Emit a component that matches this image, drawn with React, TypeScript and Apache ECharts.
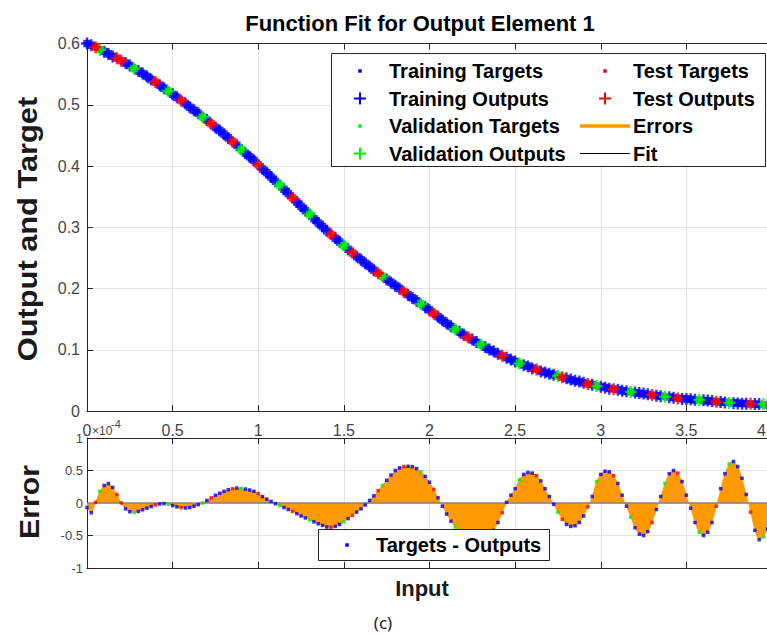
import React, { useEffect, useRef } from "react";
import * as echarts from "echarts";

// Input samples, in units of 1e-4
const INPUT = [
  0, 0.025, 0.05, 0.075, 0.1, 0.125, 0.15, 0.175, 0.2, 0.225,
  0.25, 0.275, 0.3, 0.325, 0.35, 0.375, 0.4, 0.425, 0.45, 0.475,
  0.5, 0.525, 0.55, 0.575, 0.6, 0.625, 0.65, 0.675, 0.7, 0.725,
  0.75, 0.775, 0.8, 0.825, 0.85, 0.875, 0.9, 0.925, 0.95, 0.975,
  1, 1.025, 1.05, 1.075, 1.1, 1.125, 1.15, 1.175, 1.2, 1.225,
  1.25, 1.275, 1.3, 1.325, 1.35, 1.375, 1.4, 1.425, 1.45, 1.475,
  1.5, 1.525, 1.55, 1.575, 1.6, 1.625, 1.65, 1.675, 1.7, 1.725,
  1.75, 1.775, 1.8, 1.825, 1.85, 1.875, 1.9, 1.925, 1.95, 1.975,
  2, 2.025, 2.05, 2.075, 2.1, 2.125, 2.15, 2.175, 2.2, 2.225,
  2.25, 2.275, 2.3, 2.325, 2.35, 2.375, 2.4, 2.425, 2.45, 2.475,
  2.5, 2.525, 2.55, 2.575, 2.6, 2.625, 2.65, 2.675, 2.7, 2.725,
  2.75, 2.775, 2.8, 2.825, 2.85, 2.875, 2.9, 2.925, 2.95, 2.975,
  3, 3.025, 3.05, 3.075, 3.1, 3.125, 3.15, 3.175, 3.2, 3.225,
  3.25, 3.275, 3.3, 3.325, 3.35, 3.375, 3.4, 3.425, 3.45, 3.475,
  3.5, 3.525, 3.55, 3.575, 3.6, 3.625, 3.65, 3.675, 3.7, 3.725,
  3.75, 3.775, 3.8, 3.825, 3.85, 3.875, 3.9, 3.925, 3.95, 3.975,
  4,
];

// Target values at each input
const TARGET = [
  0.600, 0.597, 0.594, 0.590, 0.587, 0.583, 0.579, 0.576, 0.572, 0.568,
  0.564, 0.559, 0.555, 0.551, 0.546, 0.541, 0.537, 0.532, 0.527, 0.522,
  0.517, 0.512, 0.507, 0.502, 0.496, 0.491, 0.486, 0.480, 0.475, 0.469,
  0.463, 0.458, 0.452, 0.446, 0.440, 0.434, 0.427, 0.421, 0.415, 0.409,
  0.402, 0.395, 0.389, 0.382, 0.375, 0.369, 0.362, 0.355, 0.348, 0.341,
  0.334, 0.327, 0.321, 0.314, 0.307, 0.301, 0.294, 0.288, 0.282, 0.276,
  0.270, 0.264, 0.258, 0.252, 0.247, 0.241, 0.236, 0.230, 0.225, 0.220,
  0.215, 0.210, 0.205, 0.200, 0.195, 0.190, 0.185, 0.180, 0.175, 0.170,
  0.165, 0.159, 0.154, 0.148, 0.143, 0.138, 0.133, 0.129, 0.124, 0.120,
  0.116, 0.112, 0.108, 0.104, 0.100, 0.097, 0.093, 0.090, 0.087, 0.084,
  0.081, 0.078, 0.075, 0.073, 0.070, 0.068, 0.065, 0.063, 0.061, 0.059,
  0.057, 0.055, 0.053, 0.051, 0.049, 0.048, 0.046, 0.044, 0.043, 0.041,
  0.040, 0.0385, 0.037, 0.036, 0.035, 0.033, 0.032, 0.031, 0.030, 0.029,
  0.028, 0.027, 0.026, 0.025, 0.024, 0.0235, 0.023, 0.022, 0.021, 0.020,
  0.0197, 0.019, 0.018, 0.0177, 0.017, 0.0165, 0.016, 0.015, 0.0148, 0.0143,
  0.0138, 0.0133, 0.0129, 0.0124, 0.012, 0.0116, 0.0112, 0.0108, 0.0104, 0.010,
  0.0097,
];

// Targets - Outputs at each input (error axis units)
const ERROR = [
  -0.07, -0.15, 0.01, 0.18, 0.27, 0.30, 0.24, 0.13, 0.00, -0.09,
  -0.135, -0.145, -0.13, -0.105, -0.08, -0.055, -0.03, -0.015, -0.01, -0.02,
  -0.04, -0.06, -0.072, -0.077, -0.07, -0.05, -0.025, 0.00, 0.04, 0.08,
  0.12, 0.15, 0.18, 0.205, 0.22, 0.23, 0.225, 0.215, 0.20, 0.18,
  0.145, 0.10, 0.06, 0.025, -0.01, -0.04, -0.07, -0.10, -0.13, -0.165,
  -0.20, -0.23, -0.26, -0.29, -0.32, -0.345, -0.37, -0.375, -0.36, -0.33,
  -0.29, -0.24, -0.19, -0.14, -0.09, -0.03, 0.04, 0.11, 0.19, 0.27,
  0.35, 0.43, 0.50, 0.54, 0.56, 0.565, 0.56, 0.53, 0.48, 0.41,
  0.32, 0.21, 0.08, -0.05, -0.17, -0.28, -0.37, -0.44, -0.50, -0.53,
  -0.55, -0.555, -0.55, -0.53, -0.49, -0.42, -0.30, -0.15, 0.01, 0.12,
  0.22, 0.36, 0.44, 0.47, 0.46, 0.42, 0.34, 0.22, 0.10, -0.02,
  -0.14, -0.25, -0.33, -0.36, -0.35, -0.30, -0.20, -0.06, 0.10, 0.33,
  0.44, 0.49, 0.48, 0.42, 0.30, 0.12, -0.05, -0.22, -0.38, -0.48,
  -0.50, -0.44, -0.30, -0.10, 0.10, 0.30, 0.45, 0.50, 0.46, 0.33,
  0.12, -0.08, -0.30, -0.45, -0.50, -0.45, -0.30, -0.05, 0.22, 0.45,
  0.60, 0.64, 0.56, 0.38, 0.13, -0.14, -0.42, -0.565, -0.52, -0.40,
  -0.22,
];

// Data division of each sample: b = training, g = validation, r = test
const SPLIT = (
  "bbrgbbbrrb bgbbbbrbbg bbrbbbbgbr bbbbrbgbbb rbbbbgbbrb bbgbbbbrbb " +
  "gbrbbbbbrg bbbbrbbbgb brbbbbgbbr bbgbbbbrbb bgbbbrbbbb grbbbbbrbg " +
  "bbbrbbbgbb bbrbbgbbrb bbbgbbbrbb gbbbbrbbgb r"
).replace(/ /g, "").split("");

// One error-axis unit in output units
const ERROR_UNIT = 1e-3;

const X_TICK_STEP = 0.5;
const Y_TICK_STEP = 0.1;
const E_TICK_STEP = 0.5;
const X_MAX_LABEL = "4";

const OUTPUT = TARGET.map((t, i) => t - ERROR[i] * ERROR_UNIT);

const FONT = '"Liberation Sans", Arial, Helvetica, sans-serif';
const AX = "#262626";
const GRIDC = "#e2e2e2";
const TICKTXT = "#454545";
const BLUE = "#0000ff";
const GREEN = "#00ee00";
const RED = "#ff0000";
const ORANGE = "#ff9900";
const PLUS = "path://M4,0H6V10H4Z M0,4H10V6H0Z";

const pick = (code: string, ys: number[]) =>
  INPUT.map((x, i) => [x, ys[i], SPLIT[i] || "b"] as [number, number, string])
    .filter((p) => p[2] === code)
    .map((p) => [p[0], p[1]]);

const fmt = (v: number) => (Math.abs(v) < 1e-9 ? "0" : String(Number(v.toFixed(2))));

const xAxisBase = (gridIndex: number, position: "top" | "bottom", labels: boolean, split: boolean) => ({
  gridIndex,
  type: "value",
  min: 0,
  max: 4,
  interval: X_TICK_STEP,
  position,
  axisLine: { show: true, onZero: false, lineStyle: { color: AX, width: 1 } },
  axisTick: { show: true, inside: true, length: 6, lineStyle: { color: AX, width: 1 } },
  axisLabel: {
    show: labels,
    showMaxLabel: false,
    margin: 11,
    fontSize: 16,
    color: TICKTXT,
    fontFamily: FONT,
    formatter: fmt,
  },
  splitLine: { show: split, lineStyle: { color: GRIDC, width: 1 } },
});

function legendText(text: string, x: number, y: number, size = 20) {
  return {
    type: "text",
    z: 101,
    style: {
      text,
      x,
      y,
      font: `bold ${size}px ${FONT}`,
      fill: "#000",
      textAlign: "left",
      align: "left",
      textVerticalAlign: "middle",
      verticalAlign: "middle",
    },
  };
}

function dot(x: number, y: number, color: string) {
  return { type: "rect", z: 101, shape: { x: x - 1.75, y: y - 1.75, width: 3.5, height: 3.5 }, style: { fill: color } };
}

function plus(x: number, y: number, color: string) {
  return {
    type: "group",
    z: 101,
    children: [
      { type: "line", z: 101, shape: { x1: x - 6, y1: y, x2: x + 6, y2: y }, style: { stroke: color, lineWidth: 2 } },
      { type: "line", z: 101, shape: { x1: x, y1: y - 6, x2: x, y2: y + 6 }, style: { stroke: color, lineWidth: 2 } },
    ],
  };
}

function label(text: string, x: number, y: number, font: string, rotation = 0, fill = "#1a1a1a", stretch = 1, align = "center") {
  return {
    type: "text",
    z: 100,
    x,
    y,
    rotation,
    scaleX: stretch,
    style: {
      text,
      x: 0,
      y: 0,
      font,
      fill,
      textAlign: align,
      align,
      textVerticalAlign: "middle",
      verticalAlign: "middle",
    },
  };
}

const ROWS = [71, 98.5, 126, 153.5];

const option = {
  animation: false,
  backgroundColor: "#ffffff",
  grid: [
    { left: 87, top: 43.5, width: 685, height: 367.5 },
    { left: 87, top: 438, width: 685, height: 130 },
  ],
  xAxis: [
    xAxisBase(0, "bottom", true, true),
    xAxisBase(0, "top", false, false),
    xAxisBase(1, "bottom", false, true),
    xAxisBase(1, "top", false, false),
  ],
  yAxis: [
    {
      gridIndex: 0,
      type: "value",
      min: 0,
      max: 0.6,
      interval: Y_TICK_STEP,
      axisLine: { show: true, onZero: false, lineStyle: { color: AX, width: 1 } },
      axisTick: { show: true, inside: true, length: 6, lineStyle: { color: AX } },
      axisLabel: { margin: 7, fontSize: 16, color: TICKTXT, fontFamily: FONT, formatter: fmt },
      splitLine: { show: true, lineStyle: { color: GRIDC, width: 1 } },
    },
    {
      gridIndex: 1,
      type: "value",
      min: -1,
      max: 1,
      interval: E_TICK_STEP,
      axisLine: { show: true, onZero: false, lineStyle: { color: AX, width: 1 } },
      axisTick: { show: true, inside: true, length: 6, lineStyle: { color: AX } },
      axisLabel: { margin: 4, fontSize: 13, color: TICKTXT, fontFamily: FONT, formatter: fmt },
      splitLine: { show: true, lineStyle: { color: GRIDC, width: 1 } },
    },
  ],
  series: [
    {
      name: "Fit",
      type: "line",
      xAxisIndex: 0,
      yAxisIndex: 0,
      data: INPUT.map((x, i) => [x, OUTPUT[i]]),
      showSymbol: false,
      symbol: "none",
      lineStyle: { color: "#000", width: 1 },
      z: 1,
    },
    { name: "Training Targets", type: "scatter", xAxisIndex: 0, yAxisIndex: 0, data: pick("b", TARGET), symbol: "rect", symbolSize: 7.5, itemStyle: { color: BLUE }, z: 2 },
    { name: "Training Outputs", type: "scatter", xAxisIndex: 0, yAxisIndex: 0, data: pick("b", OUTPUT), symbol: PLUS, symbolSize: 12, itemStyle: { color: BLUE }, z: 2 },
    { name: "Validation Targets", type: "scatter", xAxisIndex: 0, yAxisIndex: 0, data: pick("g", TARGET), symbol: "rect", symbolSize: 7.5, itemStyle: { color: GREEN }, z: 3 },
    { name: "Validation Outputs", type: "scatter", xAxisIndex: 0, yAxisIndex: 0, data: pick("g", OUTPUT), symbol: PLUS, symbolSize: 12, itemStyle: { color: GREEN }, z: 3 },
    { name: "Test Targets", type: "scatter", xAxisIndex: 0, yAxisIndex: 0, data: pick("r", TARGET), symbol: "rect", symbolSize: 7.5, itemStyle: { color: RED }, z: 4 },
    { name: "Test Outputs", type: "scatter", xAxisIndex: 0, yAxisIndex: 0, data: pick("r", OUTPUT), symbol: PLUS, symbolSize: 12, itemStyle: { color: RED }, z: 4 },
    {
      name: "Errors",
      type: "line",
      xAxisIndex: 2,
      yAxisIndex: 1,
      data: INPUT.map((x, i) => [x, ERROR[i]]),
      smooth: 0.3,
      symbol: "none",
      lineStyle: { width: 0.5, color: ORANGE },
      areaStyle: { color: ORANGE, opacity: 1 },
      z: 2,
      markLine: {
        silent: true,
        symbol: "none",
        label: { show: false },
        lineStyle: { color: "#858585", width: 1.5, type: "solid" },
        data: [{ yAxis: 0 }],
      },
    },
    { name: "Training Errors", type: "scatter", xAxisIndex: 2, yAxisIndex: 1, data: pick("b", ERROR), symbol: "rect", symbolSize: 3.5, itemStyle: { color: BLUE }, z: 5 },
    { name: "Validation Errors", type: "scatter", xAxisIndex: 2, yAxisIndex: 1, data: pick("g", ERROR), symbol: "rect", symbolSize: 3.5, itemStyle: { color: GREEN }, z: 5 },
    { name: "Test Errors", type: "scatter", xAxisIndex: 2, yAxisIndex: 1, data: pick("r", ERROR), symbol: "rect", symbolSize: 3.5, itemStyle: { color: RED }, z: 5 },
  ],
  graphic: [
    label("Function Fit for Output Element 1", 420, 23, `bold 22px ${FONT}`, 0, "#000"),
    label("Output and Target", 28, 229, `bold 27px ${FONT}`, Math.PI / 2, "#1a1a1a", 1.14),
    label("Error", 30, 502, `bold 27px ${FONT}`, Math.PI / 2, "#1a1a1a", 1.12),
    label("Input", 422, 588, `bold 22px ${FONT}`, 0, "#1a1a1a"),
    label("(c)", 383, 622, `17px "Noto Sans", "Open Sans", sans-serif`, 0, "#222"),
    // last input tick label, kept inside the frame edge
    label(X_MAX_LABEL, 766, 430, `16px ${FONT}`, 0, TICKTXT, 1, "right"),
    // exponent of the input axis
    {
      type: "text",
      z: 100,
      style: { text: "\u00d710", x: 92, y: 431, font: `12px ${FONT}`, fill: TICKTXT, textAlign: "left", align: "left", textVerticalAlign: "middle", verticalAlign: "middle" },
    },
    {
      type: "text",
      z: 100,
      style: { text: "-4", x: 111, y: 424, font: `11px ${FONT}`, fill: TICKTXT, textAlign: "left", align: "left", textVerticalAlign: "middle", verticalAlign: "middle" },
    },
    // main legend
    {
      type: "rect",
      z: 100,
      shape: { x: 331.5, y: 53.5, width: 434, height: 113 },
      style: { fill: "#ffffff", stroke: AX, lineWidth: 1 },
    },
    dot(360, ROWS[0], BLUE),
    legendText("Training Targets", 389, ROWS[0]),
    plus(360, ROWS[1], BLUE),
    legendText("Training Outputs", 389, ROWS[1]),
    dot(360, ROWS[2], GREEN),
    legendText("Validation Targets", 389, ROWS[2]),
    plus(360, ROWS[3], GREEN),
    legendText("Validation Outputs", 389, ROWS[3]),
    dot(605, ROWS[0], RED),
    legendText("Test Targets", 633, ROWS[0]),
    plus(605, ROWS[1], RED),
    legendText("Test Outputs", 633, ROWS[1]),
    { type: "line", z: 101, shape: { x1: 580, y1: ROWS[2], x2: 630, y2: ROWS[2] }, style: { stroke: ORANGE, lineWidth: 3.5 } },
    legendText("Errors", 633, ROWS[2]),
    { type: "line", z: 101, shape: { x1: 580, y1: ROWS[3], x2: 630, y2: ROWS[3] }, style: { stroke: "#000", lineWidth: 1.2 } },
    legendText("Fit", 633, ROWS[3]),
    // error legend
    {
      type: "rect",
      z: 100,
      shape: { x: 318.5, y: 529.5, width: 231, height: 31 },
      style: { fill: "#ffffff", stroke: AX, lineWidth: 1 },
    },
    dot(347, 545, BLUE),
    legendText("Targets - Outputs", 376, 545),
  ],
};

export default function App() {
  const ref = useRef<HTMLDivElement>(null);
  useEffect(() => {
    if (!ref.current) return;
    const chart = echarts.init(ref.current, null, { renderer: "svg" });
    chart.setOption(option as any);
    return () => chart.dispose();
  }, []);
  // The axes run a few pixels past the right edge of the 767px frame.
  return (
    <div style={{ position: "fixed", left: 0, top: 0, width: 767, height: 637, overflow: "hidden", background: "#fff" }}>
      <div ref={ref} style={{ width: 800, height: 637 }} />
    </div>
  );
}
